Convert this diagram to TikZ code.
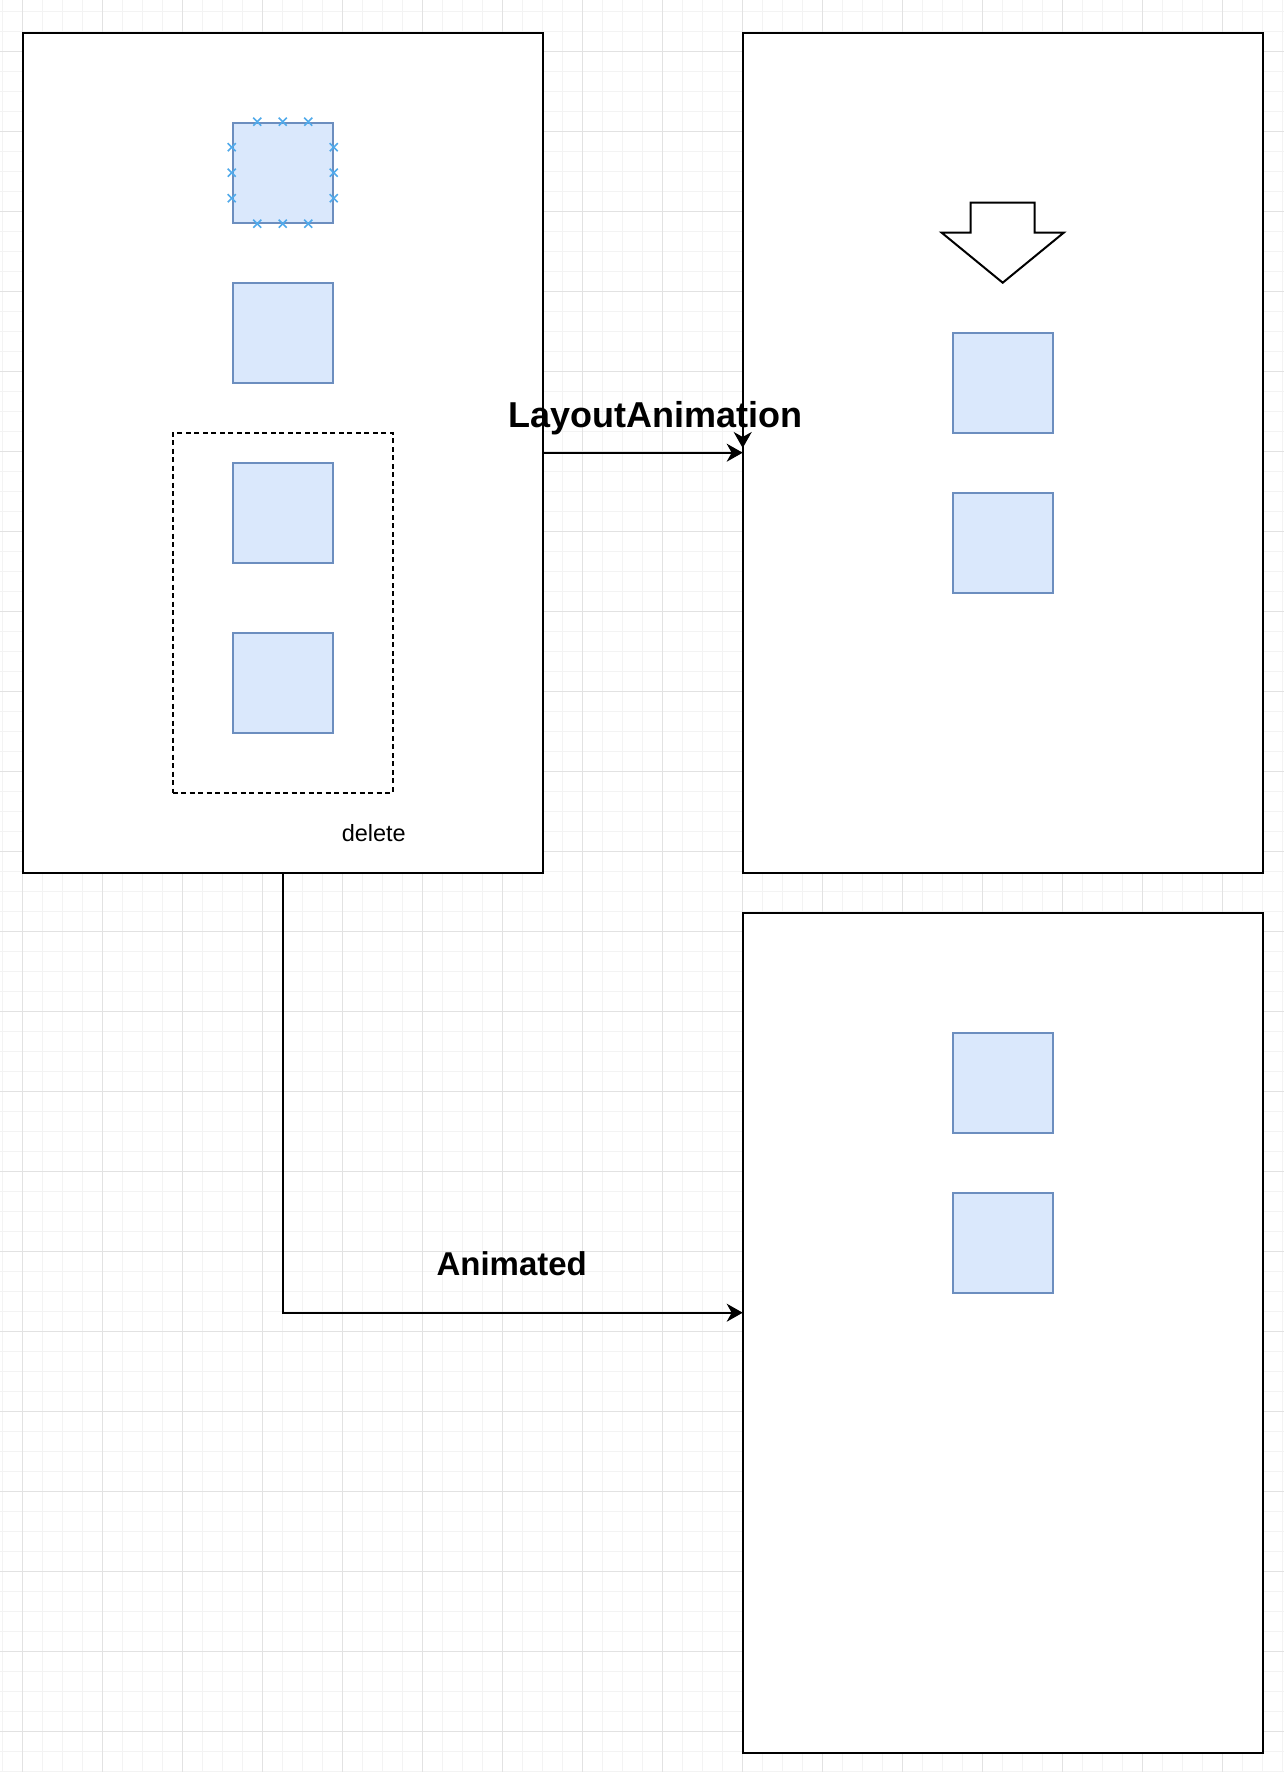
\documentclass[tikz,border=0pt]{standalone}
\usepackage{fontspec}
\setmainfont{Liberation Sans}
\usetikzlibrary{arrows.meta,calc}
\definecolor{sqfill}{HTML}{DAE8FC}
\definecolor{sqdraw}{HTML}{6C8EBF}
\definecolor{gridminor}{HTML}{F3F3F3}
\definecolor{gridmajor}{HTML}{E2E2E2}
\definecolor{xmark}{RGB}{80,170,235}
\tikzset{
  screen/.style={draw=black, fill=white, line width=2pt, minimum width=520pt, minimum height=840pt, inner sep=0pt, outer sep=0pt},
  sq/.style={draw=sqdraw, fill=sqfill, line width=2pt, minimum width=100pt, minimum height=100pt, inner sep=0pt},
  group/.style={draw=black, line width=2pt, dash pattern=on 5pt off 3.5pt, minimum width=220pt, minimum height=360pt, inner sep=0pt},
  edge/.style={draw=black, line width=2pt, -{Stealth[length=16pt,width=18pt,inset=5pt]}},
  lbl/.style={inner sep=0pt, anchor=base, font=\bfseries\fontsize{36}{40}\selectfont},
  lbl2/.style={inner sep=0pt, anchor=base, font=\bfseries\fontsize{33}{36}\selectfont},
  small/.style={inner sep=0pt, anchor=base, font=\fontsize{23.5}{28}\selectfont},
  xm/.style={draw=xmark, line width=1.6pt},
}
\begin{document}
\begin{tikzpicture}[x=1pt,y=-1pt]
\useasboundingbox (0,0) rectangle (1284,1772);
\fill[white] (0,0) rectangle (1284,1772);
% grid
\foreach \i in {0,...,64} {\draw[gridminor, line width=1pt] ({2.7+20*\i},0) -- ({2.7+20*\i},1772);}
\foreach \i in {0,...,89} {\draw[gridminor, line width=1pt] (0,{11.7+20*\i}) -- (1284,{11.7+20*\i});}
\foreach \i in {0,...,16} {\draw[gridmajor, line width=1pt] ({22.7+80*\i},0) -- ({22.7+80*\i},1772);}
\foreach \i in {0,...,22} {\draw[gridmajor, line width=1pt] (0,{-28.3+80*\i}) -- (1284,{-28.3+80*\i});}
% screens
\node[screen] (L) at (282.7,452.7) {};
\node[screen] (RT) at (1002.7,452.7) {};
\node[screen] (RB) at (1002.7,1332.7) {};
% left squares
\node[sq] (S1) at (282.7,172.7) {};
\node[sq] (S2) at (282.7,332.7) {};
\node[group] (G) at (282.7,612.7) {};
\node[sq] (S3) at (282.7,512.7) {};
\node[sq] (S4) at (282.7,682.7) {};
\node[small] (del) at (373.8,841.7) {delete};
% connection marks on S1
\foreach \f in {0.25,0.5,0.75} {
  \coordinate (a) at ($(S1.north west)!\f!(S1.north east)$);
  \coordinate (b) at ($(S1.south west)!\f!(S1.south east)$);
  \coordinate (c) at ($(S1.north west)!\f!(S1.south west)$);
  \coordinate (d) at ($(S1.north east)!\f!(S1.south east)$);
  \foreach \p in {a,b,c,d} {
    \draw[xm] ($(\p)+(-4,-4)$) -- ($(\p)+(4,4)$);
    \draw[xm] ($(\p)+(-4,4)$) -- ($(\p)+(4,-4)$);
  }
}
% right top
\draw[line width=2pt, fill=white] (970.7,202.7) -- (1034.7,202.7) -- (1034.7,232.7) -- (1063.7,232.7) -- (1002.7,282.7) -- (941.7,232.7) -- (970.7,232.7) -- cycle;
\node[sq] (T1) at (1002.7,382.7) {};
\node[sq] (T2) at (1002.7,542.7) {};
% right bottom
\node[sq] (B1) at (1002.7,1082.7) {};
\node[sq] (B2) at (1002.7,1242.7) {};
% connectors
\coordinate (vStart) at (742.7,400);
\coordinate (vEnd) at (742.7,448);
\coordinate (rbIn) at (742.7,1312.7);
\draw[edge] (vStart) -- (vEnd);
\draw[edge] (L.east) -- (RT.west);
\draw[edge] (L.south) |- (rbIn);
\node[lbl] (la) at (655,427.5) {LayoutAnimation};
\node[lbl2] (an) at (511.7,1275) {Animated};
\end{tikzpicture}
\end{document}
